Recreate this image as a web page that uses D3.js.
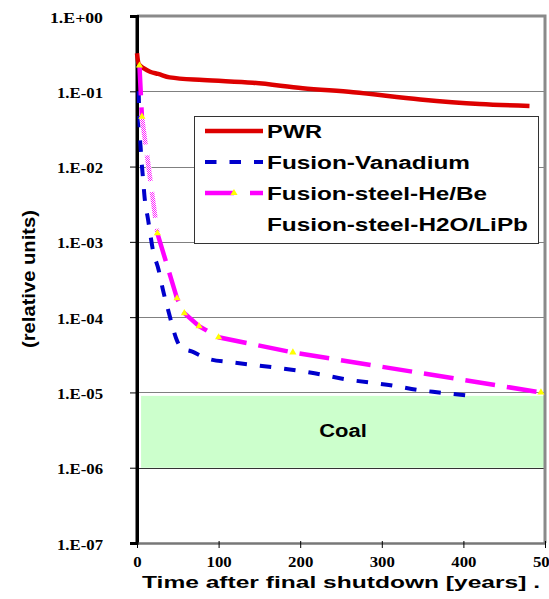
<!DOCTYPE html>
<html><head><meta charset="utf-8">
<script src="https://cdn.jsdelivr.net/npm/d3@7"></script>
<style>html,body{margin:0;padding:0;background:#fff;} svg{display:block;}</style>
</head><body><svg id="c" width="549" height="599"></svg>
<script>
// ---- data ----
const pwrT = [0, 2, 9, 16, 26, 40, 81, 142, 203, 265, 347, 420, 481];
const pwrV = [0.32, 0.23, 0.2, 0.182, 0.17, 0.153, 0.141, 0.13, 0.11, 0.097, 0.078, 0.068, 0.064];
const vanT = [2, 3.3, 5.3, 7.3, 9.4, 13.5, 19.6, 26.6, 31.8, 38.8, 45.3, 48.6, 54.7, 67, 87, 118, 175, 212, 255, 314, 344, 370, 404];
const vanV = [0.1, 0.033, 0.013, 0.0071, 0.0038, 0.002, 7.7e-4, 4.2e-4, 2.3e-4, 1.17e-4, 6.4e-5, 5.0e-5, 3.9e-5, 3.5e-5, 2.8e-5, 2.5e-5, 2.1e-5, 1.84e-5, 1.5e-5, 1.23e-5, 1.08e-5, 1.0e-5, 9.1e-6];
const heT = [3, 6, 25, 49, 58, 76, 100, 191, 495];
const heV = [0.22, 0.046, 0.0013, 1.78e-4, 1.13e-4, 7.6e-5, 5.4e-5, 3.4e-5, 1.0e-5];
const h2oT = [6, 25];
const h2oV = [0.046, 0.0013];
const coalT = [5, 500];
const coalV = [1e-6, 9e-6];
const coalLabel = "Coal";
const xTicks = [0, 100, 200, 300, 400, 500];
const yTicks = [1, 1e-1, 1e-2, 1e-3, 1e-4, 1e-5, 1e-6, 1e-7];
const yTickLabels = ["1.E+00", "1.E-01", "1.E-02", "1.E-03", "1.E-04", "1.E-05", "1.E-06", "1.E-07"];
const seriesNames = ["PWR", "Fusion-Vanadium", "Fusion-steel-He/Be", "Fusion-steel-H2O/LiPb"];
const xTitle = "Time after final shutdown [years] .";
const yTitle = "(relative units)";

// ---- drawing ----
const svg = d3.select("#c");
const x = d3.scaleLinear().domain([0, 500]).range([137, 545]);
const y = d3.scaleLog().domain([1e-7, 1]).range([543, 16]);

const defs = svg.append("defs");
const pat = defs.append("pattern").attr("id", "chk").attr("patternUnits", "userSpaceOnUse")
  .attr("width", 2).attr("height", 2);
pat.append("rect").attr("width", 2).attr("height", 2).attr("fill", "#ffffff");
pat.append("rect").attr("width", 1).attr("height", 1).attr("fill", "#ff22ff");
pat.append("rect").attr("x", 1).attr("y", 1).attr("width", 1).attr("height", 1).attr("fill", "#ff22ff");

function stretch(sel, w) {
  sel.attr("textLength", w).attr("lengthAdjust", "spacingAndGlyphs");
}

// coal band
svg.append("rect")
  .attr("x", x(coalT[0])).attr("width", x(coalT[1]) - x(coalT[0]))
  .attr("y", y(coalV[1])).attr("height", y(coalV[0]) - y(coalV[1]))
  .attr("fill", "#ccffcc");

// gridlines
svg.append("g").selectAll("line").data(yTicks.slice(1, -1)).join("line")
  .attr("x1", x(0)).attr("x2", x(500))
  .attr("y1", d => Math.round(y(d)) + 0.5).attr("y2", d => Math.round(y(d)) + 0.5)
  .attr("stroke", d => d === 1e-6 ? "#333" : "#808080").attr("stroke-width", 1);

// plot border (top/right gray)
svg.append("path")
  .attr("d", `M${x(0)},${y(1)}H${x(500)}V${y(1e-7)}`)
  .attr("fill", "none").attr("stroke", "#8a8a8a").attr("stroke-width", 3);

// y axis
const yAxis = svg.append("g").attr("transform", `translate(${x(0)},0)`)
  .call(d3.axisLeft(y).tickValues(yTicks).tickFormat((d, i) => yTickLabels[i]).tickSize(7).tickPadding(27));
yAxis.select(".domain").attr("stroke", "#000").attr("stroke-width", 3);
yAxis.selectAll(".tick line").attr("stroke", "#000");
yAxis.selectAll(".tick text")
  .attr("font-family", "Liberation Serif, Times New Roman, serif").attr("font-weight", "bold")
  .attr("font-size", 15).attr("fill", "#000").attr("dy", "0.4em")
  .each(function (d, i) { stretch(d3.select(this), yTickLabels[i].includes("+") ? 53 : 46); });

// x axis
const xAxis = svg.append("g").attr("transform", `translate(0,${y(1e-7)})`)
  .call(d3.axisBottom(x).tickValues(xTicks).tickFormat(d3.format("d")).tickSize(5).tickSizeOuter(0).tickPadding(8));
xAxis.select(".domain").attr("stroke", "#777").attr("stroke-width", 2.5);
xAxis.selectAll(".tick line").attr("stroke", "#000").attr("y1", -2);
xAxis.selectAll(".tick text")
  .attr("font-family", "Liberation Serif, Times New Roman, serif").attr("font-weight", "bold")
  .attr("font-size", 15).attr("fill", "#000")
  .each(function (d) { stretch(d3.select(this), String(d).length * 8.4); });

// left axis line redraw on top
svg.append("line").attr("x1", x(0)).attr("x2", x(0)).attr("y1", y(1) - 1).attr("y2", y(1e-7) + 1)
  .attr("stroke", "#000").attr("stroke-width", 3);

// series
const zip = (t, v) => t.map((d, i) => [d, v[i]]);
const lineM = d3.line().x(d => x(d[0])).y(d => y(d[1])).curve(d3.curveMonotoneX);
const lineL = d3.line().x(d => x(d[0])).y(d => y(d[1]));

const plot = svg.append("g");
plot.append("path").attr("d", lineM(zip(pwrT, pwrV)))
  .attr("fill", "none").attr("stroke", "#dd0000").attr("stroke-width", 4.5).attr("stroke-linejoin", "round");
plot.append("path").attr("d", lineM(zip(vanT, vanV)))
  .attr("fill", "none").attr("stroke", "#0000cc").attr("stroke-width", 4).attr("stroke-dasharray", "11.5,13");
plot.append("path").attr("d", lineL(zip(heT, heV)))
  .attr("fill", "none").attr("stroke", "#ff00ff").attr("stroke-width", 4.5).attr("stroke-dasharray", "30,12");
// H2O/LiPb: checkered pattern line overlaid
plot.append("path").attr("d", lineL(zip(h2oT, h2oV)))
  .attr("fill", "none").attr("stroke", "#fff").attr("stroke-width", 5.5);
plot.append("path").attr("d", lineL(zip(h2oT, h2oV)))
  .attr("fill", "none").attr("stroke", "url(#chk)").attr("stroke-width", 4.5)
  .attr("stroke-dasharray", "26,11").attr("stroke-dashoffset", -2);
// He/Be markers
const tri = d3.symbol().type(d3.symbolTriangle).size(22);
plot.selectAll("path.mk").data(zip(heT, heV)).join("path").attr("class", "mk")
  .attr("d", tri).attr("transform", d => `translate(${x(d[0])},${y(d[1])})`)
  .attr("fill", "#ffff00");

// coal label
svg.append("text").attr("x", 343).attr("y", 437).attr("text-anchor", "middle")
  .attr("font-family", "Liberation Sans, Arial, sans-serif").attr("font-weight", "bold")
  .attr("font-size", 18).attr("fill", "#000").text(coalLabel).call(stretch, 47.5);

// legend
const lg = svg.append("g");
lg.append("rect").attr("x", 194.5).attr("y", 116.5).attr("width", 344).attr("height", 127)
  .attr("fill", "#fff").attr("stroke", "#333").attr("stroke-width", 1);
const lgW = [55, 203, 220, 261];
const lgY = [138, 169, 200, 231];
seriesNames.forEach((n, i) => {
  lg.append("text").attr("x", 267).attr("y", lgY[i])
    .attr("font-family", "Liberation Sans, Arial, sans-serif").attr("font-weight", "bold")
    .attr("font-size", 18).attr("fill", "#000").text(n).call(stretch, lgW[i]);
});
lg.append("line").attr("x1", 205).attr("x2", 263).attr("y1", lgY[0] - 7).attr("y2", lgY[0] - 7)
  .attr("stroke", "#dd0000").attr("stroke-width", 4.5);
lg.append("line").attr("x1", 205).attr("x2", 263).attr("y1", lgY[1] - 7).attr("y2", lgY[1] - 7)
  .attr("stroke", "#0000cc").attr("stroke-width", 4).attr("stroke-dasharray", "11.5,13");
lg.append("line").attr("x1", 205).attr("x2", 263).attr("y1", lgY[2] - 7).attr("y2", lgY[2] - 7)
  .attr("stroke", "#ff00ff").attr("stroke-width", 4.5).attr("stroke-dasharray", "29,16");
lg.append("path").attr("d", tri).attr("transform", `translate(234,${lgY[2] - 7})`).attr("fill", "#ffff00");

// axis titles
svg.append("text").attr("x", 142).attr("y", 588)
  .attr("font-family", "Liberation Sans, Arial, sans-serif").attr("font-weight", "bold")
  .attr("font-size", 17).attr("fill", "#000").text(xTitle).call(stretch, 398);
svg.append("text").attr("transform", "translate(35,279) rotate(-90)").attr("text-anchor", "middle")
  .attr("font-family", "Liberation Sans, Arial, sans-serif").attr("font-weight", "bold")
  .attr("font-size", 19).attr("fill", "#000").text(yTitle).call(stretch, 138);
</script></body></html>
